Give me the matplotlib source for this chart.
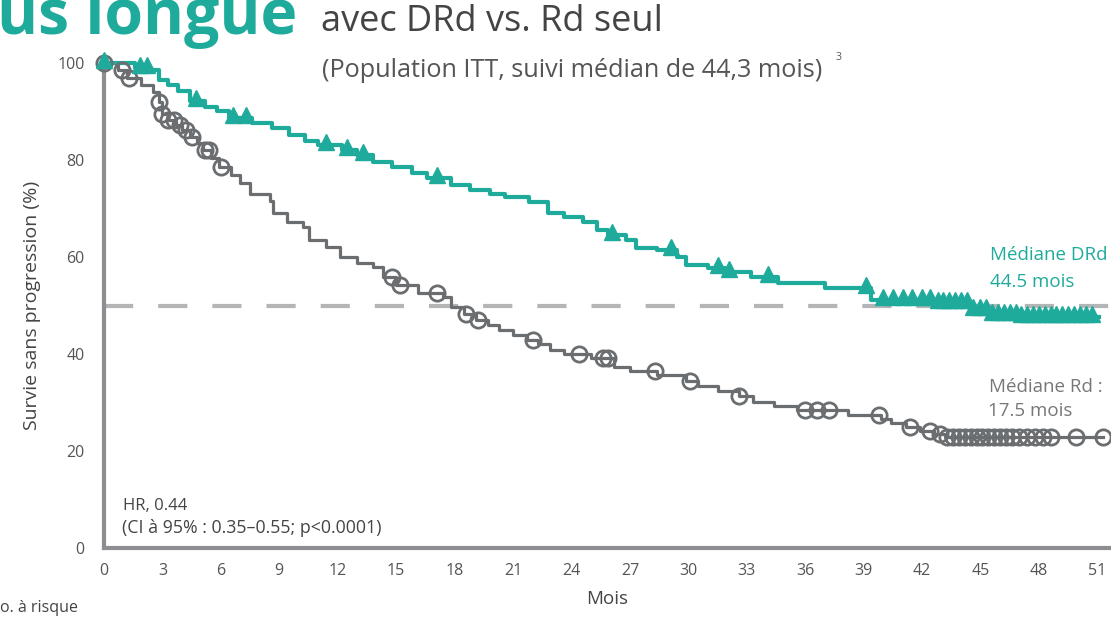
import numpy as np
import matplotlib
matplotlib.use("Agg")
import matplotlib.pyplot as plt

# ---------------- data ----------------
drd_t = [0, 1.6, 2.4, 2.8, 3.3, 3.8, 4.4, 5.2, 5.8, 6.4, 7.6, 8.6, 9.5, 10.3, 11.0,
         12.2, 13.0, 13.8, 14.8, 15.8, 16.6, 17.8, 18.8, 19.8, 20.6, 21.8, 22.8, 23.6,
         24.6, 25.3, 25.9, 26.8, 27.3, 28.4, 29.4, 29.9, 31.0, 31.9, 33.2, 34.6, 37.0,
         39.4, 42.5, 44.5, 45.6, 47.0]
drd_s = [100, 99, 98.5, 96.5, 95.5, 94.2, 92.2, 91, 90, 88.7, 87.6, 86.5, 85.2, 84, 83.1,
         82, 81, 79.6, 78.6, 77.3, 76.3, 74.8, 73.8, 73.0, 72.4, 71.3, 69, 68.2,
         67.2, 65.6, 64.5, 63.5, 61.9, 61.4, 60, 58.4, 57.7, 56.9, 55.9, 54.6, 53.6,
         51.1, 50.5, 49.1, 48.0, 47.6]
drd_end = 51.1
drd_censor = [0, 1.85, 2.2, 4.7, 6.6, 7.3, 11.4, 12.5, 13.3, 17.1, 26.1, 29.1, 31.5, 32.1,
              34.1, 39.1, 40.0, 40.5, 41.0, 41.5, 42.0, 42.4, 42.8, 43.1, 43.4, 43.7, 44.0,
              44.3, 44.6, 45.0, 45.3, 45.6, 45.9, 46.2, 46.5, 46.8, 47.1, 47.4, 47.7, 48.0,
              48.3, 48.6, 48.9, 49.2, 49.5, 49.8, 50.1, 50.4, 50.7]

rd_t = [0, 0.7, 1.2, 1.9, 2.5, 2.8, 3.0, 3.3, 3.7, 4.0, 4.4, 4.8, 5.1, 5.5, 5.9, 6.5, 7.0,
        7.5, 8.5, 8.7, 9.4, 10.2, 10.5, 11.4, 12.1, 13.0, 13.8, 14.3, 15.0, 16.1, 17.4,
        17.8, 18.5, 19.1, 19.7, 20.3, 21.0, 21.7, 22.3, 22.9, 23.6, 25.0, 26.2, 27.0,
        28.4, 29.9, 30.5, 31.5, 32.6, 33.3, 34.4, 35.6, 38.2, 39.9, 40.4, 41.2, 41.9,
        42.6, 43.2]
rd_s = [100, 98.5, 97, 95.5, 94, 92, 89.5, 88.3, 87.3, 86.2, 84.8, 83.5, 82, 80.4, 78.5,
        76.9, 75.2, 73, 71.5, 69, 67.2, 66.2, 63.5, 62, 60, 58.8, 58, 55.9, 54.2, 52.6,
        51.8, 49.7, 48.3, 47, 46, 45, 44, 42.9, 42, 40.8, 40, 39.2, 37.3, 36.4, 35.6,
        34.5, 33.3, 32.3, 31.4, 30.2, 29.2, 28.4, 27.4, 26.6, 25.8, 25, 24.2, 23.5, 22.9]
rd_end = 51.3
rd_censor = [0, 0.9, 1.3, 2.8, 3.0, 3.3, 3.6, 3.9, 4.2, 4.5, 5.2, 5.4, 6.0, 14.8, 15.2,
             17.1, 18.6, 19.2, 22.0, 24.4, 25.6, 25.9, 28.3, 30.1, 32.6, 36.0, 36.6, 37.2,
             39.8, 41.4, 42.4, 42.9, 43.3, 43.6, 43.9, 44.2, 44.5, 44.8, 45.1, 45.4, 45.7,
             46.0, 46.3, 46.6, 47.0, 47.4, 47.8, 48.2, 48.6, 49.9, 51.3]

x_ticks = list(range(0, 52, 3))
y_ticks = [0, 20, 40, 60, 80, 100]
median_level = 50

TEAL = "#1fab9c"
GRAY = "#6b6e71"
AXIS = "#8c8e91"
DASH = "#b4b5b7"
TXT = "#444444"
FONT = "Open Sans"

W, H = 1111, 625
fig = plt.figure(figsize=(W / 100, H / 100), dpi=100)
ax = fig.add_axes([104 / W, 1 - 548 / H, 1 - 104 / W, (548 - 63) / H])


def step_value(ts, ss, t):
    i = np.searchsorted(np.asarray(ts), t, side="right") - 1
    return np.asarray(ss)[i]


# dashed median line
ax.axhline(median_level, color=DASH, lw=3, dashes=(7, 6), zorder=1)

# curves
for ts, ss, end, col, lw in [(rd_t, rd_s, rd_end, GRAY, 2.3), (drd_t, drd_s, drd_end, TEAL, 3.0)]:
    xs = list(ts) + [end]
    ys = list(ss) + [ss[-1]]
    ax.plot(xs, ys, drawstyle="steps-post", color=col, lw=lw, zorder=3, clip_on=False)

rc = np.array(rd_censor)
ax.plot(rc, step_value(rd_t, rd_s, rc), linestyle="none", marker="o", ms=11,
        mfc="none", mec=GRAY, mew=2.0, zorder=4, clip_on=False)
dc = np.array(drd_censor)
ax.plot(dc, step_value(drd_t, drd_s, dc) + 0.6, linestyle="none", marker="^", ms=11,
        mfc=TEAL, mec=TEAL, mew=1.0, zorder=5, clip_on=False)

ax.set_xlim(0, 51.7)
ax.set_ylim(0, 100)
ax.set_xticks(x_ticks)
ax.set_yticks(y_ticks)
ax.set_xticklabels([str(v) for v in x_ticks], fontsize=11.5, color="#555555", family=FONT)
ax.set_yticklabels([str(v) for v in y_ticks], fontsize=11.5, color="#555555", family=FONT)
ax.tick_params(axis="x", length=0, pad=11)
ax.tick_params(axis="y", length=0, pad=14)
for s in ["top", "right"]:
    ax.spines[s].set_visible(False)
for s in ["left", "bottom"]:
    ax.spines[s].set_color(AXIS)
    ax.spines[s].set_linewidth(3)

ax.set_xlabel("Mois", fontsize=13.5, color=TXT, family=FONT, labelpad=8)
ax.set_ylabel("Survie sans progression (%)", fontsize=14, color=TXT, family=FONT, labelpad=12)


def ftext(x, y, s, **kw):
    fig.text(x / W, 1 - y / H, s, **kw)


# title pieces
ftext(-3, 34, "us longue", fontsize=45, color=TEAL, fontweight="bold", family=FONT,
      va="baseline", ha="left")
ftext(321, 31, "avec DRd vs. Rd seul", fontsize=26, color=TXT, family=FONT,
      va="baseline", ha="left")
ftext(322, 77, "(Population ITT, suivi médian de 44,3 mois)", fontsize=18.2, color="#555555",
      family=FONT, va="baseline", ha="left")
ftext(836, 60, "3", fontsize=7.5, color="#555555", family=FONT, va="baseline")

# annotations
ftext(123, 510, "HR, 0.44", fontsize=12, color=TXT, family=FONT, va="baseline")
ftext(122, 533, "(CI à 95% : 0.35–0.55; p<0.0001)", fontsize=12.8, color=TXT, family=FONT,
      va="baseline")
ftext(1108, 260, "Médiane DRd", fontsize=13.5, color=TEAL, family=FONT, ha="right",
      va="baseline")
ftext(990, 287, "44.5 mois", fontsize=13.5, color=TEAL, family=FONT, ha="left",
      va="baseline")
ftext(1103, 392, "Médiane Rd :", fontsize=13.5, color="#777777", family=FONT, ha="right",
      va="baseline")
ftext(988, 416, "17.5 mois", fontsize=13.5, color="#777777", family=FONT, ha="left",
      va="baseline")
ftext(78, 612, "No. à risque", fontsize=11.5, color=TXT, family=FONT, ha="right",
      va="baseline")

fig.savefig("out.png", dpi=100, facecolor="white")
